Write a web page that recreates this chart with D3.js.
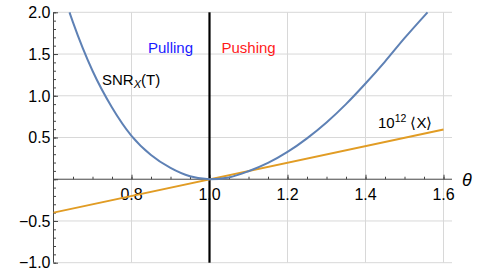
<!DOCTYPE html>
<html>
<head>
<meta charset="utf-8">
<script src="https://cdn.jsdelivr.net/npm/d3@7"></script>
<style>
  html, body { margin: 0; padding: 0; background: #fff; }
  svg { display: block; font-family: "Liberation Sans", Arial, sans-serif; }
</style>
</head>
<body>
<svg id="chart" width="480" height="273"></svg>
<script>
// values
const snrTheta = [0.641, 0.65, 0.7, 0.75, 0.8, 0.85, 0.9, 0.95, 1.0, 1.05, 1.1, 1.15, 1.2, 1.25, 1.3, 1.35, 1.4, 1.45, 1.5, 1.559];
const snrValue = [2.0, 1.88, 1.30, 0.86, 0.52, 0.29, 0.135, 0.035, 0.0, 0.022, 0.096, 0.195, 0.327, 0.49, 0.68, 0.90, 1.147, 1.41, 1.69, 2.0];
const meanTheta = [0.6, 1.6];
const meanValue = [-0.40, 0.595];
const xTicks = [0.8, 1.0, 1.2, 1.4, 1.6];
const yTicks = [-1.0, -0.5, 0.5, 1.0, 1.5, 2.0];

const svg = d3.select("#chart");

const x = d3.scaleLinear().domain([0.6, 1.6]).range([53.5, 443.5]);
const y = d3.scaleLinear().domain([-1, 2]).range([262.7, 12.3]);
const xEnd = 452;

// grid
const grid = svg.append("g")
  .attr("stroke", "#d8d8d8")
  .attr("stroke-width", 1);

grid.selectAll("line.h")
  .data(yTicks)
  .join("line")
  .attr("class", "h")
  .attr("x1", x(0.6)).attr("x2", xEnd)
  .attr("y1", d => y(d)).attr("y2", d => y(d));

grid.selectAll("line.v")
  .data(xTicks.filter(d => d !== 1.0))
  .join("line")
  .attr("class", "v")
  .attr("x1", d => x(d)).attr("x2", d => x(d))
  .attr("y1", y(2)).attr("y2", y(-1));

// axes
const xg = svg.append("g")
  .attr("transform", `translate(0,${y(0)})`)
  .call(d3.axisTop(x).tickValues(d3.range(0.65, 1.62, 0.05)).tickSize(2.5).tickFormat(""));
xg.select(".domain").attr("d", `M${x(0.6)},0H${xEnd}`).attr("stroke", "#444");

svg.append("g")
  .attr("transform", `translate(0,${y(0)})`)
  .call(d3.axisTop(x).tickValues(xTicks).tickSize(4.5).tickFormat(""))
  .select(".domain").remove();

const yg = svg.append("g")
  .attr("transform", `translate(${x(0.6)},0)`)
  .call(d3.axisRight(y).tickValues(d3.range(-1.0, 2.01, 0.1)).tickSize(2.5).tickFormat(""));
yg.select(".domain").attr("d", `M0,${y(2)}V${y(-1)}`).attr("stroke", "#444");

svg.append("g")
  .attr("transform", `translate(${x(0.6)},0)`)
  .call(d3.axisRight(y).tickValues([-1, -0.5, 0, 0.5, 1, 1.5, 2]).tickSize(4.5).tickFormat(""))
  .select(".domain").remove();

svg.selectAll("g.tick line").attr("stroke", "#444");

// tick labels
svg.append("g")
  .selectAll("text")
  .data(xTicks)
  .join("text")
  .attr("x", d => x(d))
  .attr("y", 200)
  .attr("text-anchor", "middle")
  .attr("font-size", 16)
  .attr("fill", "#000")
  .text(d => d3.format(".1f")(d));

svg.append("g")
  .selectAll("text")
  .data(yTicks)
  .join("text")
  .attr("x", 50.5)
  .attr("y", d => y(d))
  .attr("dy", "0.36em")
  .attr("text-anchor", "end")
  .attr("font-size", 16)
  .attr("fill", "#000")
  .text(d => d3.format(".1f")(d).replace("-", "\u2212"));

// vertical divider at theta = 1
svg.append("line")
  .attr("x1", x(1)).attr("x2", x(1))
  .attr("y1", y(2)).attr("y2", y(-1))
  .attr("stroke", "#000")
  .attr("stroke-width", 2.2);

// series
const line = d3.line()
  .x(d => x(d[0]))
  .y(d => y(d[1]));

svg.append("path")
  .datum(d3.zip(meanTheta, meanValue))
  .attr("d", line)
  .attr("fill", "none")
  .attr("stroke", "#e19c24")
  .attr("stroke-width", 2);

svg.append("path")
  .datum(d3.zip(snrTheta, snrValue))
  .attr("d", line.curve(d3.curveMonotoneX))
  .attr("fill", "none")
  .attr("stroke", "#5e81b5")
  .attr("stroke-width", 2);

// annotations
svg.append("text")
  .attr("x", 148).attr("y", 52.5)
  .attr("font-size", 15)
  .attr("fill", "#1a1aff")
  .text("Pulling");

svg.append("text")
  .attr("x", 221.5).attr("y", 52.5)
  .attr("font-size", 15)
  .attr("fill", "#ff1a1a")
  .text("Pushing");

const snr = svg.append("text")
  .attr("x", 102).attr("y", 85)
  .attr("font-size", 15)
  .attr("fill", "#000");
snr.append("tspan").text("SNR");
snr.append("tspan").attr("font-size", 11).attr("font-style", "italic").attr("dy", 3).text("X");
snr.append("tspan").attr("dy", -3).text("(T)");

const mean = svg.append("text")
  .attr("x", 378).attr("y", 128)
  .attr("font-size", 15)
  .attr("fill", "#000");
mean.append("tspan").text("10");
mean.append("tspan").attr("font-size", 10.5).attr("dy", -6).text("12");
mean.append("tspan").attr("dy", 6).attr("dx", 4).text("\u27E8X\u27E9");

svg.append("text")
  .attr("x", 462).attr("y", y(0))
  .attr("dy", "0.36em")
  .attr("font-size", 18)
  .attr("font-style", "italic")
  .attr("fill", "#000")
  .text("\u03B8");
</script>
</body>
</html>
